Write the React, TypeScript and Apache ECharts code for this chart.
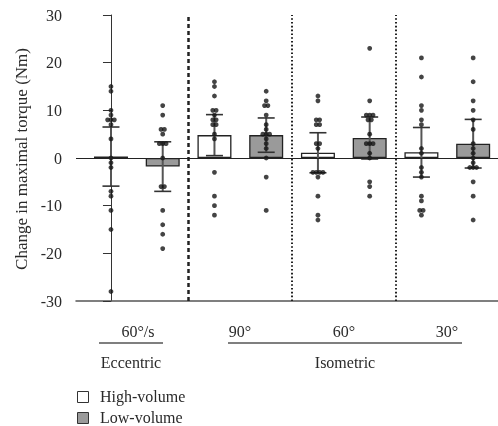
import React, { useEffect, useRef } from "react";
import * as echarts from "echarts";

// Positions of the eight bars along the x axis (0..7): High/Low pairs per condition
const conditions = ["60°/s", "90°", "60°", "30°"];
const groups = ["Eccentric", "Isometric"];
const seriesNames = ["High-volume", "Low-volume"];
const yTicks = [-30, -20, -10, 0, 10, 20, 30];

// Individual subject changes (Nm)
const eccHigh = [15, 14, 10, 9, 8, 8, 8, 7, 4, 0, -1, -2, -7, -8, -11, -15, -28];
const eccLow = [11, 9, 6, 6, 5, 3, 3, 3, 0, -6, -6, -11, -14, -16, -19];
const iso90High = [16, 15, 13, 10, 10, 9, 8, 8, 7, 7, 5, 4, -3, -8, -10, -12];
const iso90Low = [14, 12, 11, 11, 9, 7, 6, 5, 5, 5, 4, 3, 2, 0, -4, -11];
const iso60High = [13, 12, 8, 8, 7, 7, 3, 3, 2, -3, -3, -3, -3, -4, -8, -12, -13];
const iso60Low = [23, 12, 9, 9, 9, 8, 8, 5, 3, 3, 3, 1, 0, -5, -6, -8];
const iso30High = [21, 17, 11, 10, 8, 7, 2, 1, -2, -3, -4, -8, -9, -11, -11, -12];
const iso30Low = [21, 16, 12, 10, 8, 6, 3, 2, 1, 0, -1, -2, -2, -2, -5, -8, -13];

// Means and SDs
const meanHigh = [0.3, 4.8, 1.1, 1.2];
const sdHigh = [6.2, 4.3, 4.2, 5.2];
const meanLow = [-1.8, 4.8, 4.2, 3.0];
const sdLow = [5.2, 3.6, 4.4, 5.1];

const points = [eccHigh, eccLow, iso90High, iso90Low, iso60High, iso60Low, iso30High, iso30Low];

const FONT = "'Liberation Serif', 'DejaVu Serif', serif";
const TXT = "#2a2a2a";
const GRAY = "#9a9a9a";

export default function App() {
  const ref = useRef<HTMLDivElement>(null);
  useEffect(() => {
    if (!ref.current) return;
    const chart = echarts.init(ref.current, undefined, { renderer: "svg" });

    const barData: any[] = [];
    const errData: any[] = [];
    for (let i = 0; i < 4; i++) {
      barData.push({
        value: [2 * i, meanHigh[i]],
        itemStyle: { color: "#ffffff", borderColor: "#222", borderWidth: 1.3 },
      });
      barData.push({
        value: [2 * i + 1, meanLow[i]],
        itemStyle: { color: GRAY, borderColor: "#222", borderWidth: 1.3 },
      });
      errData.push([2 * i, meanHigh[i] - sdHigh[i], meanHigh[i] + sdHigh[i]]);
      errData.push([2 * i + 1, meanLow[i] - sdLow[i], meanLow[i] + sdLow[i]]);
    }

    // dots with horizontal spread for equal values
    const dotData: number[][] = [];
    const step = 0.065;
    points.forEach((arr, xi) => {
      const counts: Record<string, number> = {};
      arr.forEach((v) => (counts[v] = (counts[v] || 0) + 1));
      const seen: Record<string, number> = {};
      arr.forEach((v) => {
        const n = counts[v];
        const k = seen[v] || 0;
        seen[v] = k + 1;
        dotData.push([xi + (k - (n - 1) / 2) * step, v]);
      });
    });

    const textStyle = { fill: TXT, font: `16px ${FONT}` };

    chart.setOption({
      animation: false,
      grid: { left: 76, right: 0, top: 15, bottom: 125 },
      xAxis: {
        type: "value",
        min: -0.676,
        max: 7.48,
        axisLine: { show: true, onZero: false, lineStyle: { color: "#555", width: 1.5 } },
        axisTick: { show: false },
        axisLabel: { show: false },
        splitLine: { show: false },
      },
      yAxis: {
        type: "value",
        min: yTicks[0],
        max: yTicks[yTicks.length - 1],
        interval: 10,
        axisLine: { show: true, lineStyle: { color: "#333", width: 1 } },
        axisTick: { show: true, length: 8, lineStyle: { color: "#333" } },
        axisLabel: { color: TXT, fontFamily: FONT, fontSize: 16, margin: 14 },
        splitLine: { show: false },
      },
      series: [
        {
          type: "bar",
          barWidth: 34,
          data: barData,
          z: 2,
          markLine: {
            silent: true,
            symbol: "none",
            label: { show: false },
            data: [
              { yAxis: 0, lineStyle: { color: "#222", width: 1.2, type: "solid" } },
              { xAxis: 1.5, lineStyle: { color: "#222", width: 2.5, type: [4, 3] } },
              { xAxis: 3.5, lineStyle: { color: "#222", width: 2, type: [1.6, 2.2] } },
              { xAxis: 5.5, lineStyle: { color: "#222", width: 2, type: [1.6, 2.2] } },
            ],
          },
        },
        {
          type: "custom",
          z: 3,
          data: errData,
          renderItem: (params: any, api: any) => {
            const x = api.value(0);
            const lo = api.coord([x, api.value(1)]);
            const hi = api.coord([x, api.value(2)]);
            const hw = 8.5;
            return {
              type: "group",
              children: [
                { type: "line", shape: { x1: lo[0], y1: lo[1], x2: hi[0], y2: hi[1] }, style: { stroke: "#555", lineWidth: 2 } },
                { type: "line", shape: { x1: lo[0] - hw, y1: lo[1], x2: lo[0] + hw, y2: lo[1] }, style: { stroke: "#333", lineWidth: 1.6 } },
                { type: "line", shape: { x1: hi[0] - hw, y1: hi[1], x2: hi[0] + hw, y2: hi[1] }, style: { stroke: "#333", lineWidth: 1.6 } },
              ],
            };
          },
        },
        {
          type: "scatter",
          z: 4,
          symbolSize: 4.8,
          itemStyle: { color: "#151515" },
          data: dotData,
        },
      ],
      graphic: [
        { type: "text", x: 21, y: 159, rotation: Math.PI / 2, style: { fill: TXT, font: `17px ${FONT}`, text: "Change in maximal torque (Nm)", textAlign: "center", textVerticalAlign: "middle" } },
        { type: "text", x: 138, y: 331, style: { ...textStyle, text: conditions[0], textAlign: "center", textVerticalAlign: "middle" } },
        { type: "text", x: 240, y: 331, style: { ...textStyle, text: conditions[1], textAlign: "center", textVerticalAlign: "middle" } },
        { type: "text", x: 344, y: 331, style: { ...textStyle, text: conditions[2], textAlign: "center", textVerticalAlign: "middle" } },
        { type: "text", x: 447, y: 331, style: { ...textStyle, text: conditions[3], textAlign: "center", textVerticalAlign: "middle" } },
        { type: "line", shape: { x1: 99, y1: 343, x2: 163, y2: 343 }, style: { stroke: "#555", lineWidth: 1.5 } },
        { type: "line", shape: { x1: 228, y1: 343, x2: 462, y2: 343 }, style: { stroke: "#555", lineWidth: 1.5 } },
        { type: "text", x: 131, y: 362, style: { ...textStyle, text: groups[0], textAlign: "center", textVerticalAlign: "middle" } },
        { type: "text", x: 345, y: 362, style: { ...textStyle, text: groups[1], textAlign: "center", textVerticalAlign: "middle" } },
        { type: "rect", shape: { x: 77.5, y: 391.5, width: 11, height: 11 }, style: { fill: "#fff", stroke: "#333", lineWidth: 1 } },
        { type: "rect", shape: { x: 77.5, y: 412.5, width: 11, height: 11 }, style: { fill: GRAY, stroke: "#333", lineWidth: 1 } },
        { type: "text", x: 100, y: 396.5, style: { ...textStyle, text: seriesNames[0], textAlign: "left", textVerticalAlign: "middle" } },
        { type: "text", x: 100, y: 417.5, style: { ...textStyle, text: seriesNames[1], textAlign: "left", textVerticalAlign: "middle" } },
      ],
    });
    return () => chart.dispose();
  }, []);
  return <div ref={ref} style={{ position: "fixed", left: 0, top: 0, width: 498, height: 426 }} />;
}
